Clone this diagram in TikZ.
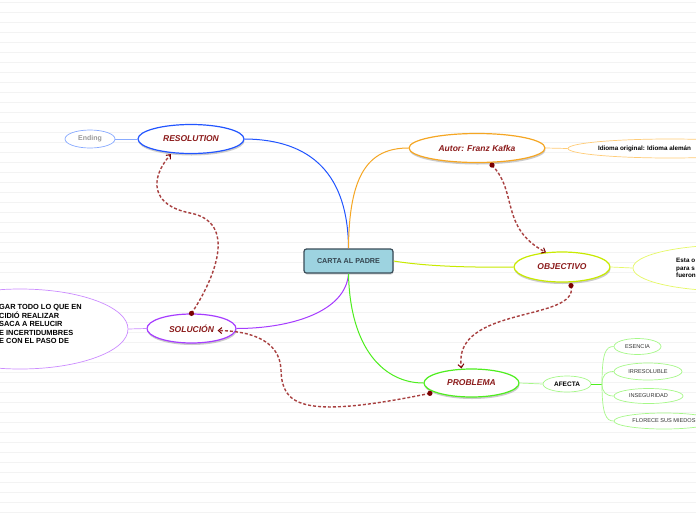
\documentclass[tikz,border=0pt]{standalone}
\usepackage{fontspec}
\setmainfont{Liberation Sans}
\usetikzlibrary{shapes.geometric,arrows.meta,shadows}
\definecolor{bgl}{HTML}{F3F3F3}
\definecolor{titlered}{HTML}{8B1A1A}
\definecolor{relc}{HTML}{A84040}
\definecolor{dotc}{HTML}{7A0000}
\definecolor{cfill}{HTML}{9DD3E0}
\definecolor{cdraw}{HTML}{3A4C58}
\definecolor{blueC}{HTML}{2255FF}
\definecolor{blueL}{HTML}{88AAFF}
\definecolor{orangeC}{HTML}{F5A623}
\definecolor{orangeL}{HTML}{FFCC77}
\definecolor{yelC}{HTML}{C8EA00}
\definecolor{yelL}{HTML}{E6F866}
\definecolor{purC}{HTML}{A63CFF}
\definecolor{purL}{HTML}{CC8CFF}
\definecolor{grnC}{HTML}{4EEE1E}
\definecolor{grnL}{HTML}{A6F888}
\tikzset{
  bgline/.style={draw=bgl, line width=0.7pt},
  mainnode/.style={ellipse, draw, line width=1.2pt, fill=white, inner sep=0pt,
    font=\fontsize{8.5}{10}\selectfont\bfseries\itshape, text=titlered,
    drop shadow={shadow xshift=0.5pt, shadow yshift=-2pt, fill=black!40, opacity=0.5}},
  leafnode/.style={ellipse, draw, line width=0.7pt, fill=white, inner sep=0pt,
    font=\fontsize{5.5}{6.5}\selectfont\bfseries, text=black},
  subleaf/.style={ellipse, draw=grnL, line width=0.7pt, fill=white, inner sep=0pt,
    font=\fontsize{5.6}{6.5}\selectfont, text=black!80},
  conn/.style={line width=1pt},
  rel/.style={draw=relc, line width=1.4pt, dash pattern=on 3pt off 2pt,
    -{Straight Barb[length=3.5pt,width=6pt,line width=1pt,color=dotc]}},
  reldot/.style={fill=dotc},
}
\begin{document}
\begin{tikzpicture}[x=1pt,y=-1pt]
\useasboundingbox (0,0) rectangle (696,520);
\fill[white] (0,0) rectangle (696,520);
\foreach \yy in {2,12,...,512} \draw[bgline] (0,\yy) -- (696,\yy);

% nodes
\node[draw=cdraw, fill=cfill, line width=1.2pt, rounded corners=2.5pt, minimum width=89pt, minimum height=24pt, inner sep=0pt,
  font=\fontsize{7.2}{8}\selectfont\bfseries, text=cdraw!90!black,
  drop shadow={shadow xshift=0.5pt, shadow yshift=-1.5pt, fill=black!40, opacity=0.4}] (c) at (348.5,261) {CARTA AL PADRE};

\node[mainnode, draw=blueC, minimum width=106pt, minimum height=29pt] (res) at (191,139) {RESOLUTION};
\node[leafnode, draw=blueL, minimum width=50pt, minimum height=18pt, text=black!40, font=\fontsize{7}{8}\selectfont\bfseries] (end) at (90,139) {Ending};

\node[mainnode, draw=orangeC, minimum width=136pt, minimum height=29pt] (aut) at (477,148) {Autor: Franz Kafka};
\node[leafnode, draw=orangeL, minimum width=204pt, minimum height=19pt] (idi) at (670,148.5) {};
\node[font=\fontsize{6.3}{7}\selectfont\bfseries, inner sep=0pt] (iditxt) at (644.5,148.5) {Idioma original: Idioma alemán};

\node[mainnode, draw=yelC, minimum width=96pt, minimum height=30pt] (obj) at (562,267) {OBJECTIVO};
\node[leafnode, draw=yelL, minimum width=194pt, minimum height=46pt] (esta) at (730,268) {};
\node[anchor=west, align=left, inner sep=0pt, font=\fontsize{6.3}{7.6}\selectfont\bfseries] (estatxt) at (676,268) {Esta o\\para s\\fueron};

\node[mainnode, draw=purC, minimum width=89pt, minimum height=29pt] (sol) at (191.5,328.5) {SOLUCIÓN};
\node[leafnode, draw=purL, minimum width=216pt, minimum height=80pt] (expl) at (20,329) {};
\node[anchor=west, align=left, inner sep=0pt, font=\fontsize{7.4}{8.5}\selectfont\bfseries] (expltxt) at (-1,324) {GAR TODO LO QUE EN\\CIDIÓ REALIZAR\\SACA A RELUCIR\\E INCERTIDUMBRES\\E CON EL PASO DE};

\node[mainnode, draw=grnC, minimum width=95pt, minimum height=28pt] (prob) at (471.5,383) {PROBLEMA};
\node[leafnode, draw=grnL, minimum width=48pt, minimum height=16pt, font=\fontsize{6.5}{7.5}\selectfont\bfseries] (af) at (567,384) {AFECTA};
\node[subleaf, minimum width=47pt, minimum height=16pt] (esc) at (637.5,346.5) {ESENCIA};
\node[subleaf, minimum width=68pt, minimum height=17pt] (irr) at (648,371.5) {IRRESOLUBLE};
\node[subleaf, minimum width=69pt, minimum height=15pt] (ins) at (648.5,396) {INSEGURIDAD};
\node[subleaf, minimum width=100pt, minimum height=16pt] (flo) at (664,421) {FLORECE SUS MIEDOS};

% connectors
\draw[conn, blueC] (c.north) .. controls (348,175) and (312,139.5) .. (res.east);
\draw[conn, orangeC] (c.north) .. controls (349,175) and (368,148) .. (aut.west);
\draw[conn, yelC] (c.east) .. controls (430,267) and (480,267.5) .. (obj.west);
\draw[conn, purC] (c.south) .. controls (346,312) and (290,328.5) .. (sol.east);
\draw[conn, grnC] (c.south) .. controls (350,350) and (385,383) .. (prob.west);

\draw[conn, blueL, line width=0.7pt] (end.east) -- (res.west);
\draw[conn, orangeL, line width=0.7pt] (aut.east) -- (idi.west);
\draw[conn, yelL, line width=0.7pt] (obj.east) -- (esta.west);
\draw[conn, purL, line width=0.7pt] (expl.east) -- (sol.west);
\draw[conn, grnL, line width=0.7pt] (prob.east) -- (af.west);

\coordinate (br) at (602,384);
\draw[grnC, line width=1pt] (af.east) -- (br);
\draw[grnL, line width=0.7pt] (br) .. controls (602,352) and (606,346.5) .. (esc.west);
\draw[grnL, line width=0.7pt] (br) .. controls (602,375) and (606,371.5) .. (irr.west);
\draw[grnL, line width=0.7pt] (br) .. controls (602,392) and (606,396) .. (ins.west);
\draw[grnL, line width=0.7pt] (br) .. controls (602,414) and (606,421) .. (flo.west);

% relationships
\draw[rel] (sol.north) .. controls (215,278) and (238,222) .. (190,213) .. controls (150,205) and (150,178) .. ([xshift=-20pt]res.south);
\fill[reldot] (sol.north) circle (2.6pt);

\draw[rel] ([xshift=15pt,yshift=-2pt]aut.south) .. controls (518,192) and (500,228) .. ([xshift=-16pt,yshift=-1pt]obj.north);
\fill[reldot] ([xshift=15pt,yshift=-2pt]aut.south) circle (2.6pt);

\draw[rel] ([xshift=9pt,yshift=-3pt]obj.south) .. controls (580,322) and (452,305) .. ([xshift=-10pt]prob.north);
\fill[reldot] ([xshift=9pt,yshift=-3pt]obj.south) circle (2.6pt);

\draw[rel] ([yshift=-3pt]prob.190) .. controls (300,420) and (282,405) .. (281,370) .. controls (280,340) and (250,331) .. ([xshift=-19pt,yshift=-2pt]sol.east);
\fill[reldot] ([yshift=-3pt]prob.190) circle (2.6pt);
\end{tikzpicture}
\end{document}
